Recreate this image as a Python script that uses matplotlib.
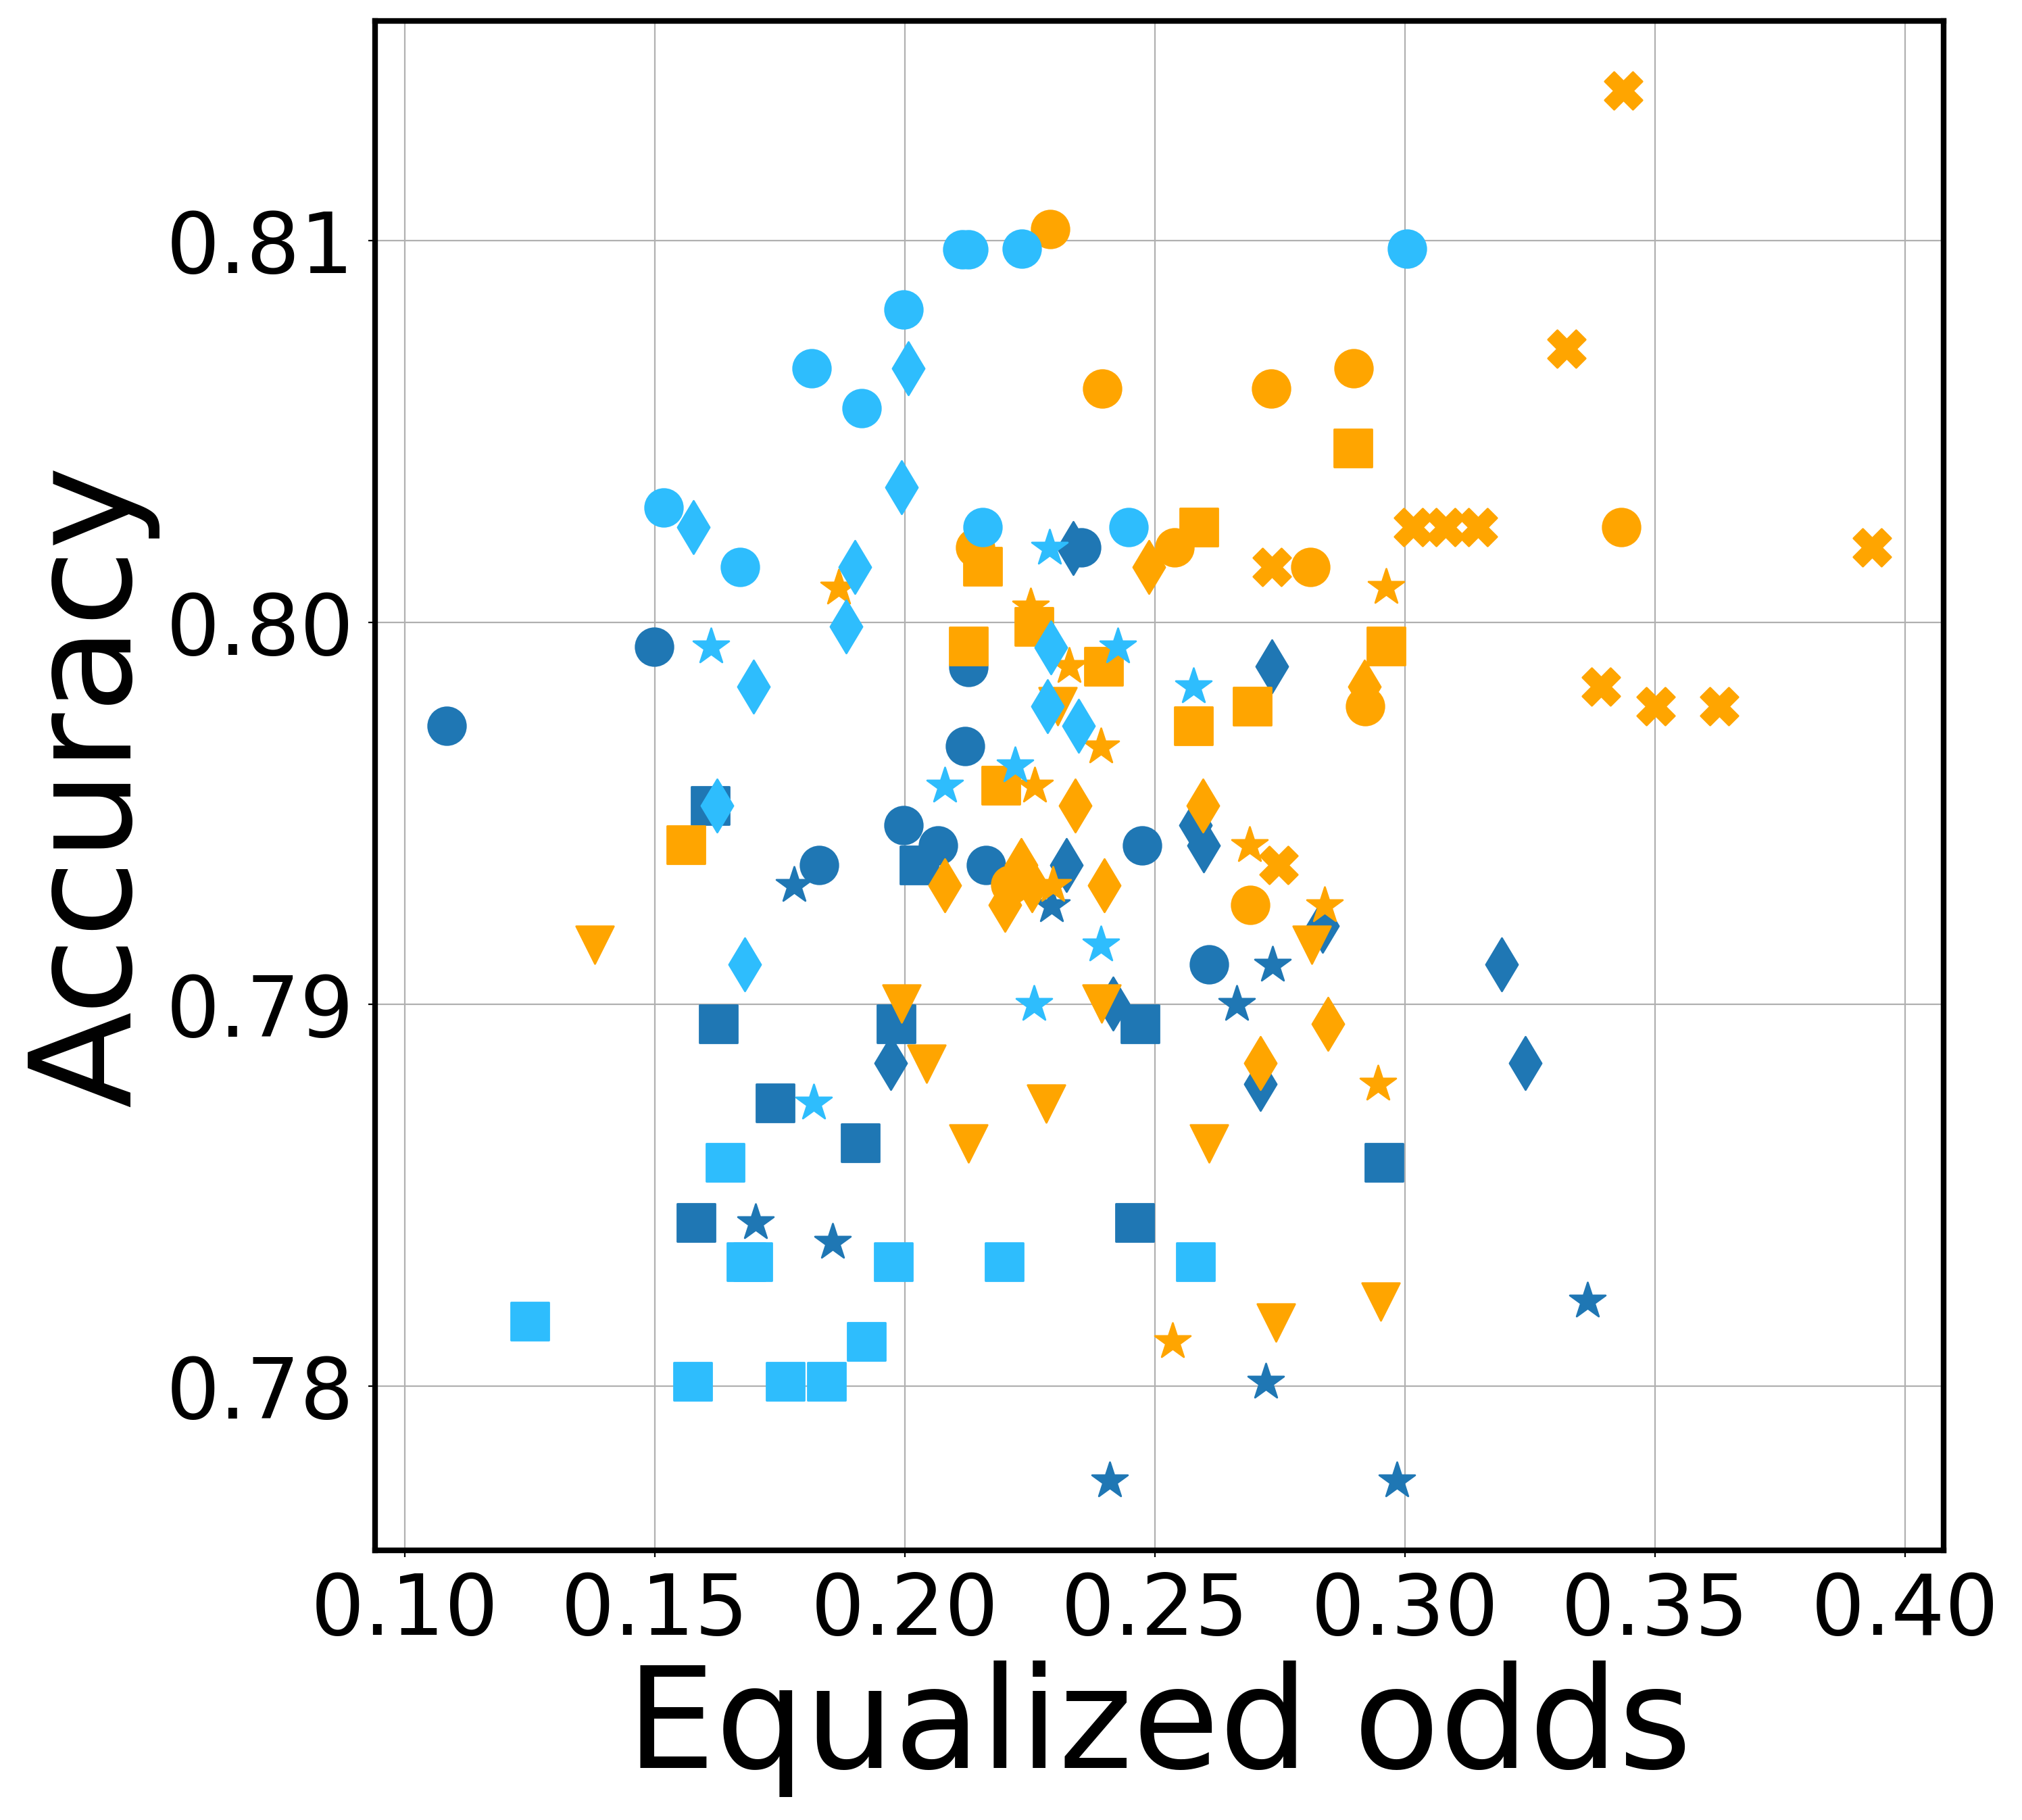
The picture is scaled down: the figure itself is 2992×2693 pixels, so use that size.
import numpy as np
import matplotlib
matplotlib.use("Agg")
import matplotlib.pyplot as plt

# colours of the three groups
DARK = "#1f77b4"
LIGHT = "#2ebdfd"
ORANGE = "#ffa500"

# ---- dark blue ----
dark_o_x = [0.1083, 0.1498, 0.1828, 0.1998, 0.2066, 0.2120, 0.2127, 0.2162, 0.2353, 0.2474, 0.2608]
dark_o_y = [0.7973, 0.79937, 0.79366, 0.7947, 0.79417, 0.79677, 0.79884, 0.79366, 0.80197, 0.79417, 0.79106]
dark_s_x = [0.1611, 0.1627, 0.1983, 0.2028, 0.1741, 0.1911, 0.1583, 0.2460, 0.2470, 0.2958]
dark_s_y = [0.79522, 0.7895, 0.7895, 0.79366, 0.78742, 0.78638, 0.7843, 0.7843, 0.7895, 0.78586]
dark_d_x = [0.2337, 0.2734, 0.2582, 0.2598, 0.2323, 0.2836, 0.2416, 0.1972, 0.2711, 0.3194, 0.3241]
dark_d_y = [0.80195, 0.79886, 0.79469, 0.79417, 0.79366, 0.79207, 0.79002, 0.78846, 0.78792, 0.79106, 0.78846]
dark_star_x = [0.1779, 0.2293, 0.2736, 0.2664, 0.1701, 0.1855, 0.2722, 0.2410, 0.2984, 0.3366]
dark_star_y = [0.79312, 0.7926, 0.79104, 0.79001, 0.78429, 0.78378, 0.78012, 0.77753, 0.77753, 0.78223]

# ---- light blue ----
light_o_x = [0.1814, 0.1913, 0.1518, 0.1670, 0.2115, 0.2127, 0.2234, 0.3004, 0.1998, 0.2155, 0.2448]
light_o_y = [0.80666, 0.80561, 0.80302, 0.80146, 0.80978, 0.80978, 0.80979, 0.80979, 0.80821, 0.8025, 0.8025]
light_s_x = [0.1641, 0.1682, 0.1696, 0.1977, 0.2199, 0.2581, 0.1250, 0.1923, 0.1576, 0.1761, 0.1844]
light_s_y = [0.78586, 0.78326, 0.78326, 0.78326, 0.78326, 0.78326, 0.7817, 0.78118, 0.78014, 0.78014, 0.78014]
light_d_x = [0.1577, 0.2007, 0.1993, 0.1900, 0.1882, 0.1697, 0.1625, 0.1680, 0.2292, 0.2285, 0.2347]
light_d_y = [0.8025, 0.80666, 0.80354, 0.80146, 0.7999, 0.79833, 0.79522, 0.79106, 0.79936, 0.79781, 0.7973]
light_star_x = [0.1612, 0.2289, 0.2426, 0.2577, 0.2221, 0.2080, 0.2392, 0.2258, 0.1818]
light_star_y = [0.79937, 0.80196, 0.79937, 0.79832, 0.79625, 0.79572, 0.79157, 0.79001, 0.78742]

# ---- orange ----
orange_o_x = [0.2291, 0.2395, 0.2733, 0.2897, 0.2141, 0.2539, 0.2811, 0.3433, 0.2921, 0.2691, 0.2211]
orange_o_y = [0.8103, 0.80614, 0.80614, 0.80666, 0.80197, 0.80197, 0.80146, 0.8025, 0.79781, 0.79261, 0.79314]
orange_s_x = [0.2896, 0.2588, 0.2155, 0.2258, 0.2127, 0.2398, 0.2962, 0.2695, 0.2577, 0.2192, 0.1562]
orange_s_y = [0.80458, 0.8025, 0.80147, 0.79991, 0.79938, 0.79886, 0.79938, 0.79781, 0.7973, 0.79574, 0.79419]
orange_d_x = [0.2488, 0.2919, 0.2341, 0.2596, 0.2080, 0.2232, 0.2254, 0.2200, 0.2399, 0.2711, 0.2846]
orange_d_y = [0.80146, 0.79833, 0.79522, 0.79522, 0.79312, 0.79366, 0.79312, 0.79261, 0.79312, 0.78846, 0.7895]
orange_star_x = [0.1868, 0.2251, 0.2328, 0.2963, 0.2392, 0.2259, 0.2296, 0.2689, 0.2839, 0.2946, 0.2536]
orange_star_y = [0.80091, 0.80041, 0.79886, 0.80092, 0.79676, 0.79572, 0.79312, 0.79416, 0.7926, 0.78792, 0.78117]
orange_v_x = [0.1380, 0.2306, 0.1993, 0.2394, 0.2814, 0.2044, 0.2283, 0.2127, 0.2609, 0.2952, 0.2742]
orange_v_y = [0.79157, 0.79781, 0.79002, 0.79002, 0.79157, 0.78845, 0.78741, 0.78637, 0.78637, 0.78222, 0.78168]
orange_x_x = [0.3437, 0.3324, 0.3016, 0.3082, 0.3147, 0.3935, 0.2734, 0.3393, 0.3502, 0.3629, 0.2747]
orange_x_y = [0.81394, 0.80717, 0.8025, 0.8025, 0.8025, 0.80197, 0.80146, 0.79833, 0.79781, 0.79781, 0.79366]

x_ticks = [0.10, 0.15, 0.20, 0.25, 0.30, 0.35, 0.40]
y_ticks = [0.78, 0.79, 0.80, 0.81]

fig = plt.figure(figsize=(14.96, 13.465), dpi=200)
ax = fig.add_axes([0.1855, 0.1482, 0.9612 - 0.1855, 0.9885 - 0.1482])

S = 400
# dark first, then orange, light blue on top
ax.scatter(dark_o_x, dark_o_y, s=S, c=DARK, marker="o")
ax.scatter(dark_s_x, dark_s_y, s=S, c=DARK, marker="s")
ax.scatter(dark_d_x, dark_d_y, s=S, c=DARK, marker="d")
ax.scatter(dark_star_x, dark_star_y, s=S, c=DARK, marker="*")

ax.scatter(orange_o_x, orange_o_y, s=S, c=ORANGE, marker="o")
ax.scatter(orange_s_x, orange_s_y, s=S, c=ORANGE, marker="s")
ax.scatter(orange_d_x, orange_d_y, s=S, c=ORANGE, marker="d")
ax.scatter(orange_star_x, orange_star_y, s=S, c=ORANGE, marker="*")
ax.scatter(orange_v_x, orange_v_y, s=S, c=ORANGE, marker="v")
ax.scatter(orange_x_x, orange_x_y, s=S, c=ORANGE, marker="X")

ax.scatter(light_o_x, light_o_y, s=S, c=LIGHT, marker="o")
ax.scatter(light_s_x, light_s_y, s=S, c=LIGHT, marker="s")
ax.scatter(light_d_x, light_d_y, s=S, c=LIGHT, marker="d")
ax.scatter(light_star_x, light_star_y, s=S, c=LIGHT, marker="*")

ax.set_xticks(x_ticks)
ax.set_xticklabels(["%.2f" % v for v in x_ticks])
ax.set_yticks(y_ticks)
ax.set_yticklabels(["%.2f" % v for v in y_ticks])
ax.tick_params(labelsize=45, pad=7.5)
ax.grid(True, color="#b0b0b0", linewidth=0.8)
ax.set_axisbelow(True)
for sp in ax.spines.values():
    sp.set_linewidth(3)

ax.set_xlabel("Equalized odds", fontsize=75)
ax.set_ylabel("Accuracy", fontsize=75)

fig.savefig("out.png", dpi=200)
